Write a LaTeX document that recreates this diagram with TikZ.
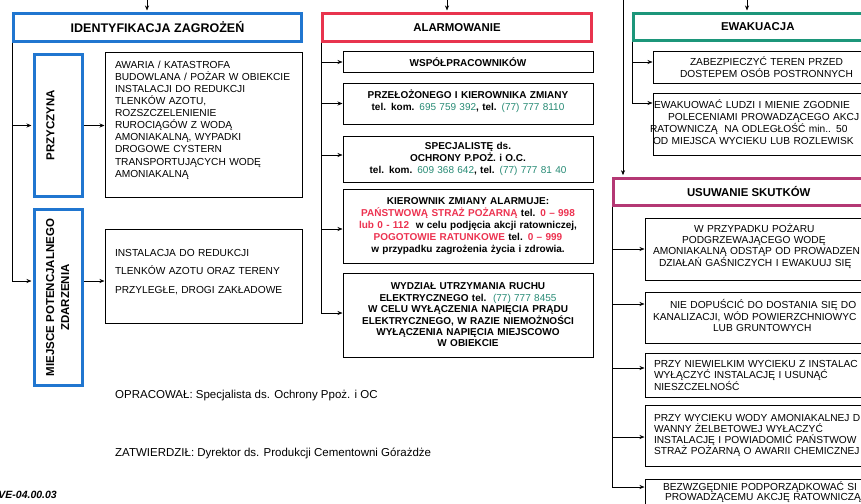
\documentclass[tikz,border=0pt]{standalone}
\usepackage{fontspec}
\setmainfont{Liberation Sans}
\usepackage{graphicx}
\usetikzlibrary{arrows.meta}

\definecolor{blueframe}{RGB}{32,118,208}
\definecolor{redframe}{RGB}{232,52,78}
\definecolor{greenframe}{RGB}{28,150,122}
\definecolor{pinkframe}{RGB}{180,56,116}
\definecolor{telteal}{RGB}{38,138,116}
\definecolor{alarmred}{RGB}{236,50,80}

\newcommand\tel[1]{\textcolor{telteal}{\mdseries #1}}
\newcommand\pilne[1]{\textcolor{alarmred}{#1}}
\newcommand\ind[1]{\hspace*{#1pt}}
\newcommand\podnies[1]{\par\vspace*{#1pt}\hrule height 0pt}

\tikzset{
  head/.style={draw, line width=3pt, inner sep=0pt, font=\fontsize{11.4}{13}\selectfont\bfseries},
  side/.style={draw=blueframe, line width=3pt, inner sep=0pt, font=\fontsize{11.5}{15}\selectfont\bfseries},
  body/.style={draw, line width=1pt, inner sep=0pt, align=left, font=\fontsize{10.2}{12.1}\selectfont},
  alarmbody/.style={draw, line width=1pt, inner sep=0pt, align=center, font=\fontsize{10}{11.8}\selectfont\bfseries},
  wh/.style 2 args={minimum width=#1, minimum height=#2},
  boxsize/.style 2 args={minimum width=#1, minimum height=#2, text width=#1},
  conn/.style={line width=0.6pt},
  arr/.style={conn, -{Stealth[length=5pt,width=4pt]}},
  arrh/.style={arr, shorten >=1.5pt},
  foot/.style={inner sep=0pt, font=\fontsize{11.5}{13}\selectfont},
}

\begin{document}
\begin{tikzpicture}[x=1pt, y=-1pt]
  \useasboundingbox (0,0) rectangle (861,503);
  \clip (0,0) rectangle (861,503);

  \node[head, draw=blueframe, wh={288pt}{28pt}, font=\fontsize{12.5}{14}\selectfont\bfseries] (ident) at (157.5,27.5) {IDENTYFIKACJA ZAGROŻEŃ};
  \node[head, draw=redframe, wh={269pt}{28pt}] (alarm) at (457,27.5) {ALARMOWANIE};
  \node[head, draw=greenframe, wh={248.5pt}{27pt}] (ewak) at (757.75,27) {EWAKUACJA};
  \node[head, draw=pinkframe, wh={270.5pt}{27.6pt}] (usuw) at (748.75,192) {USUWANIE SKUTKÓW};

  \node[side, wh={48pt}{142pt}] (przyczyna) at (58.5,125.5) {\rotatebox{90}{\raisebox{8pt}[\height][\depth]{PRZYCZYNA}}};
  \node[side, wh={48pt}{176pt}] (miejsce) at (58.5,297.5) {\rotatebox{90}{\begin{tabular}{@{}c@{}}MIEJSCE POTENCJALNEGO\\ZDARZENIA\end{tabular}}};

  \node[body, boxsize={197pt}{144pt}] (awaria) at (203.5,125) {\leftskip=10pt AWARIA / KATASTROFA\\BUDOWLANA / POŻAR W OBIEKCIE\\INSTALACJI DO REDUKCJI\\TLENKÓW AZOTU,\\ROZSZCZELENIENIE\\RUROCIĄGÓW Z WODĄ\\AMONIAKALNĄ, WYPADKI\\DROGOWE CYSTERN\\TRANSPORTUJĄCYCH WODĘ\\AMONIAKALNĄ\podnies{10}};
  \node[body, boxsize={197pt}{94pt}, font=\fontsize{10.2}{18.5}\selectfont] (instal) at (203.5,276) {\leftskip=10pt INSTALACJA DO REDUKCJI\\TLENKÓW AZOTU ORAZ TERENY\\PRZYLEGŁE, DROGI ZAKŁADOWE\podnies{8}};

  \node[alarmbody, boxsize={250pt}{20pt}] (wsp) at (468,62) {WSPÓŁPRACOWNIKÓW};
  \node[alarmbody, boxsize={250pt}{41pt}] (przel) at (468,103.5) {PRZEŁOŻONEGO I KIEROWNIKA ZMIANY\\tel. kom. \tel{695 759 392}, tel. \tel{(77) 777 8110}\podnies{4}};
  \node[alarmbody, boxsize={250pt}{46pt}] (spec) at (468,159) {SPECJALISTĘ ds.\\OCHRONY P.POŻ. i O.C.\\tel. kom. \tel{609 368 642}, tel. \tel{(77) 777 81 40}};
  \node[alarmbody, boxsize={250pt}{74pt}] (kier) at (468,226) {KIEROWNIK ZMIANY ALARMUJE:\\\pilne{PAŃSTWOWĄ STRAŻ POŻARNĄ} tel. \pilne{0 – 998}\\\pilne{lub 0 - 112}\ \ w celu podjęcia akcji ratowniczej,\\\pilne{POGOTOWIE RATUNKOWE} tel. \pilne{0 – 999}\\w przypadku zagrożenia życia i zdrowia.};
  \node[alarmbody, boxsize={250pt}{84pt}, font=\fontsize{10}{11.4}\selectfont\bfseries] (wydz) at (468,315) {WYDZIAŁ UTRZYMANIA RUCHU\\ELEKTRYCZNEGO tel.\ \ \tel{(77) 777 8455}\\W CELU WYŁĄCZENIA NAPIĘCIA PRĄDU\\ELEKTRYCZNEGO, W RAZIE NIEMOŻNOŚCI\\WYŁĄCZENIA NAPIĘCIA MIEJSCOWO\\W OBIEKCIE};

  \node[body, align=center, boxsize={227pt}{31pt}, font=\fontsize{10.2}{12}\selectfont] (zabez) at (766.5,67.5) {ZABEZPIECZYĆ TEREN PRZED\\DOSTEPEM OSÓB POSTRONNYCH};
  \node[body, boxsize={227pt}{62pt}, font=\fontsize{10.2}{12.2}\selectfont] (ewaku) at (766.5,124) {\ind{1}EWAKUOWAĆ LUDZI I MIENIE ZGODNIE\\\ind{15}POLECENIAMI PROWADZĄCEGO AKCJ\\\ind{-3}RATOWNICZĄ\ \ NA ODLEGŁOŚĆ min.. 50\\\ind{0}OD MIEJSCA WYCIEKU LUB ROZLEWISK\podnies{4}};

  \node[body, boxsize={239pt}{62pt}, font=\fontsize{10.2}{11}\selectfont] (wprzyp) at (764.5,249) {\ind{49}W PRZYPADKU POŻARU\\\ind{37}PODGRZEWAJĄCEGO WODĘ\\\ind{8}AMONIAKALNĄ ODSTĄP OD PROWADZEN\\\ind{14}DZIAŁAŃ GAŚNICZYCH I EWAKUUJ SIĘ\podnies{6}};
  \node[body, boxsize={239pt}{51pt}, font=\fontsize{10.2}{11.2}\selectfont] (niedop) at (764.5,317.5) {\ind{25}NIE DOPUŚCIĆ DO DOSTANIA SIĘ DO\\\ind{8}KANALIZACJI, WÓD POWIERZCHNIOWYC\\\ind{68}LUB GRUNTOWYCH\podnies{4}};
  \node[body, boxsize={239pt}{44pt}, font=\fontsize{10.2}{11.5}\selectfont] (niewiel) at (764.5,375) {\leftskip=9pt PRZY NIEWIELKIM WYCIEKU Z INSTALAC\\WYŁĄCZYĆ INSTALACJĘ I USUNĄĆ\\NIESZCZELNOŚĆ\\};
  \node[body, boxsize={239pt}{61pt}, font=\fontsize{10.2}{11.2}\selectfont] (wyciek) at (764.5,435.5) {\leftskip=9pt PRZY WYCIEKU WODY AMONIAKALNEJ D\\WANNY ŻELBETOWEJ WYŁACZYĆ\\INSTALACJĘ I POWIADOMIĆ PAŃSTWOW\\STRAŻ POŻARNĄ O AWARII CHEMICZNEJ\\};
  \node[body, boxsize={239pt}{26pt}, font=\fontsize{10.2}{10.5}\selectfont] (bezwz) at (764.5,492) {\ind{18}BEZWZGĘDNIE PODPORZĄDKOWAĆ SI\\\ind{20}PROWADZĄCEMU AKCJĘ RATOWNICZĄ};

  \node[foot, anchor=west] (opracowal) at (115,396) {OPRACOWAŁ: Specjalista ds. Ochrony Ppoż. i OC};
  \node[foot, anchor=west] (zatwierdzil) at (115,453) {ZATWIERDZIŁ: Dyrektor ds. Produkcji Cementowni Górażdże};
  \node[inner sep=0pt, anchor=east, font=\fontsize{10.5}{12}\selectfont\bfseries\itshape] (symbol) at (57,495) {VE-04.00.03};

  \coordinate (in-ident) at (147,-3);
  \coordinate (in-alarm) at (447,-3);
  \coordinate (in-ewak) at (747,-3);
  \coordinate (in-usuw) at (623,-3);
  \draw[arrh] (in-ident) -- (in-ident |- ident.north);
  \draw[arrh] (in-alarm) -- (in-alarm |- alarm.north);
  \draw[arrh] (in-ewak) -- (in-ewak |- ewak.north);
  \draw[arrh] (in-usuw) -- (in-usuw |- usuw.north);

  \draw[arrh] (ident.south west) |- (przyczyna.west);
  \draw[arrh] (ident.south west) |- ([yshift=16.5pt]miejsce.west);
  \draw[arr] (przyczyna.east) -- (przyczyna.east -| awaria.west);
  \draw[arr] ([yshift=16.5pt]miejsce.east) -- ([yshift=16.5pt]miejsce.east -| instal.west);

  \draw[arr] (alarm.south west) |- (wsp.west);
  \draw[arr] (alarm.south west) |- (przel.west);
  \draw[arr] (alarm.south west) |- ([yshift=4pt]spec.west);
  \draw[arr] (alarm.south west) |- ([yshift=-3pt]kier.west);
  \draw[arr] (alarm.south west) |- ([yshift=2pt]wydz.west);

  \draw[arr] (ewak.south west) |- ([yshift=5.5pt]zabez.west);
  \draw[arr] (ewak.south west) |- ([yshift=21pt]ewaku.west);

  \draw[arr] (usuw.south west) |- (wprzyp.west);
  \draw[arr] (usuw.south west) |- ([yshift=13.5pt]niedop.west);
  \draw[arr] (usuw.south west) |- ([yshift=7pt]niewiel.west);
  \draw[arr] (usuw.south west) |- ([yshift=-1.5pt]wyciek.west);
  \draw[arr] (usuw.south west) |- ([yshift=5pt]bezwz.west);
\end{tikzpicture}
\end{document}
